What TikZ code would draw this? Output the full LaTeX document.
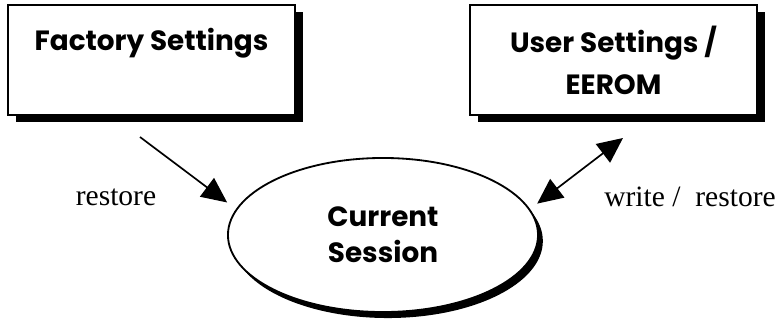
\documentclass[tikz,border=0pt]{standalone}
\usepackage{fontspec}
\setmainfont{Liberation Serif}
\newfontfamily\boxfont{Poppins}
\usetikzlibrary{shapes.geometric,shadows,arrows.meta}

\begin{document}
\begin{tikzpicture}[x=0.025cm,y=-0.025cm,>={Triangle[length=18pt,width=16.5pt]},
	setbox/.style={draw,line width=1.3pt,fill=white,minimum width=7.175cm,minimum height=2.75cm,
		align=center,font=\boxfont\bfseries\fontsize{19.8}{30}\selectfont,
		drop shadow={opacity=1,fill=black,shadow xshift=0.2cm,shadow yshift=-0.18cm}},
	sessionshape/.style={ellipse,draw,line width=1.3pt,fill=white,minimum width=7.75cm,minimum height=3.85cm,
		align=center,font=\boxfont\bfseries\fontsize{19.8}{25.5}\selectfont,
		drop shadow={opacity=1,fill=black,shadow xshift=0.12cm,shadow yshift=-0.15cm}},
	tag/.style={font=\fontsize{21}{24}\selectfont}]
	\useasboundingbox (0,0) rectangle (782,322);

	%boxes
	\node[setbox] (factory) at (151.5,60) {Factory Settings\\ \mbox{}};
	\node[setbox] (user) at (613.5,60) {User Settings /\\EEROM};
	\node[sessionshape] (session) at (383,235) {Current\\Session};

	%arrows
	\coordinate (fs) at (140,137);
	\coordinate (ue) at (623,138);
	\draw[->,line width=1.2pt,shorten >=7.8pt] (fs) -- (session.170);
	\draw[<->,line width=1.2pt,shorten <=6.4pt] (session.10) -- (ue);

	%labels
	\node[tag] (restore) at (116,197) {restore};
	\node[tag] (writerestore) at (690,197) {write /\ \ restore};
\end{tikzpicture}
\end{document}
